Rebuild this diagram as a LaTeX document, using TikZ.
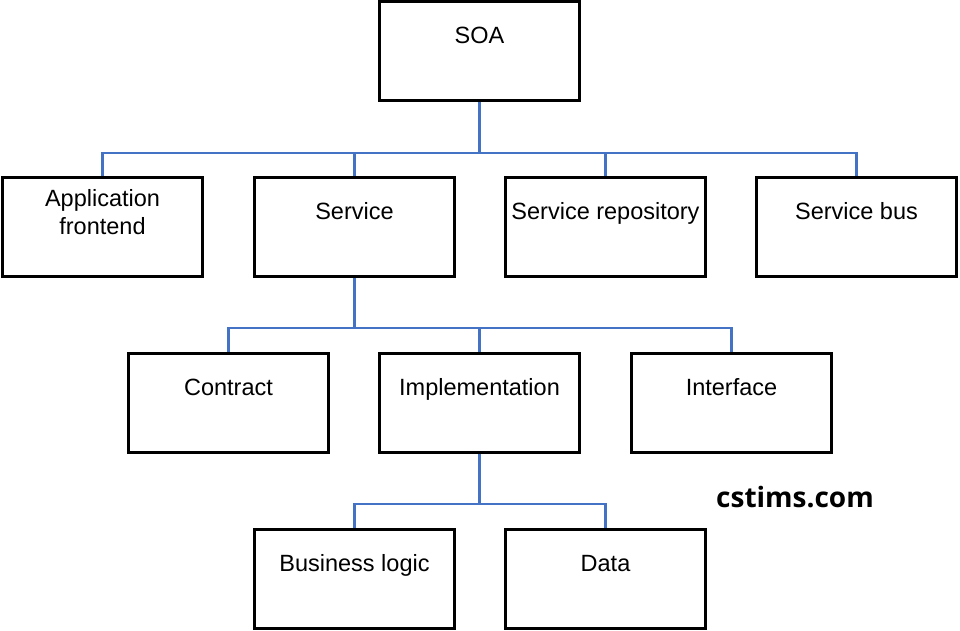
\documentclass[tikz,border=0pt]{standalone}
\usepackage{fontspec}
\setmainfont{Liberation Sans}
\newfontfamily\markfont{Open Sans}
\usetikzlibrary{calc}
\definecolor{linkblue}{RGB}{68,114,196}

\tikzset{
  box/.style={draw=black, line width=2.4pt, fill=white, minimum width=200pt, minimum height=99pt, inner sep=0pt},
  txt/.style={anchor=base, yshift=-43.5pt, font=\fontsize{23.5}{28}\selectfont},
  txttwo/.style={anchor=center, yshift=-35.5pt, align=center, font=\fontsize{23.5}{28}\selectfont},
  link/.style={draw=linkblue, line width=2.2pt}
}

\begin{document}
\begin{tikzpicture}[x=1pt, y=-1pt]
	%%%%% START %%%%%
	
	\fill[white] (0, 0) rectangle (960, 631);
	\useasboundingbox (0, 0) rectangle (960, 631);
	
	% top
	\node[box, label={[txt]north:SOA}] (soa) at (479.5, 51) {};
	
	% second row
	\node[box, label={[txttwo]north:Application\\frontend}] (app) at (102.5, 227) {};
	\node[box, label={[txt]north:Service}] (service) at (354.5, 227) {};
	\node[box, label={[txt]north:Service repository}] (repo) at (605.5, 227) {};
	\node[box, label={[txt]north:Service bus}] (bus) at (856.5, 227) {};
	
	% third row
	\node[box, label={[txt]north:Contract}] (contract) at (228.5, 403) {};
	\node[box, label={[txt]north:Implementation}] (impl) at (479.5, 403) {};
	\node[box, label={[txt]north:Interface}] (iface) at (731.5, 403) {};
	
	% fourth row
	\node[box, label={[txt]north:Business logic}] (logic) at (354.5, 579) {};
	\node[box, label={[txt]north:Data}] (data) at (605.5, 579) {};
	
	% connectors
	\coordinate (j1) at ($(soa.south)+(0, 51)$);
	\draw[link] (soa.south) -- (j1);
	\foreach \n in {app, service, repo, bus}
		\draw[link] (j1) -| (\n.north);
	
	\coordinate (j2) at ($(service.south)+(0, 50)$);
	\draw[link] (service.south) -- (j2);
	\foreach \n in {contract, impl, iface}
		\draw[link] (j2) -| (\n.north);
	
	\coordinate (j3) at ($(impl.south)+(0, 50)$);
	\draw[link] (impl.south) -- (j3);
	\foreach \n in {logic, data}
		\draw[link] (j3) -| (\n.north);
	
	% watermark
	\node[anchor=base, font=\markfont\bfseries\fontsize{28}{33}\selectfont] (mark) at (795, 507) {cstims.com};
	
	%%%%% END %%%%%
\end{tikzpicture}
\end{document}
